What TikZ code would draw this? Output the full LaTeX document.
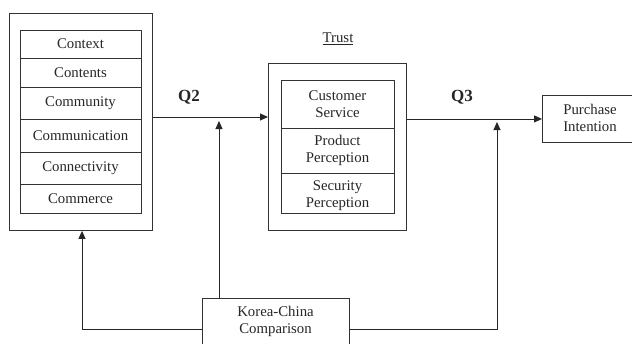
\documentclass[tikz,border=0pt]{standalone}
\usepackage{fontspec}
\setmainfont{Liberation Serif}
\usetikzlibrary{arrows.meta,calc}
\begin{document}
\begin{tikzpicture}[x=1pt,y=-1pt,
  line width=0.9pt,
  every node/.style={font=\fontsize{14.8}{17}\selectfont, text=black!85},
  frame/.style={draw=black!80, rectangle, inner sep=0pt, anchor=north west},
  cell/.style={draw=black!80, rectangle, inner sep=0pt, align=center},
  lbl/.style={font=\fontsize{17}{19}\selectfont\bfseries},
  arr/.style={draw=black!85, -{Triangle[length=8pt,width=7pt]}},
  ln/.style={draw=black!85}]
\useasboundingbox (0,0) rectangle (632,343);
\clip (0,0) rectangle (632,343);
% left frame
\node[frame, minimum width=143pt, minimum height=217pt] (left) at (9,13) {};
\node[cell, minimum width=121pt, minimum height=28pt] (c1) at (80.5,44) {Context};
\node[cell, minimum width=121pt, minimum height=29pt] (c2) at (80.5,72.5) {Contents};
\node[cell, minimum width=121pt, minimum height=32pt] (c3) at (80.5,103) {Community};
\node[cell, minimum width=121pt, minimum height=33pt] (c4) at (80.5,135.5) {Communication};
\node[cell, minimum width=121pt, minimum height=32pt] (c5) at (80.5,168) {Connectivity};
\node[cell, minimum width=121pt, minimum height=29pt] (c6) at (80.5,198.5) {Commerce};
% trust frame
\node (trustlbl) at (338,39) {\underline{Trust}};
\node[frame, minimum width=138pt, minimum height=167pt] (trust) at (268,63) {};
\node[cell, minimum width=113pt, minimum height=48pt] (t1) at (337.5,104) {Customer\\Service};
\node[cell, minimum width=113pt, minimum height=45pt] (t2) at (337.5,150.5) {Product\\Perception};
\node[align=center] (t3txt) at (337.5,196) {Security\\Perception};
\fill[white] (281,213.5) rectangle (394,220);
\node[cell, minimum width=113pt, minimum height=40pt] (t3) at (337.5,193) {};
% purchase
\node[frame, minimum width=100pt, minimum height=47pt] (purchase) at (542,95) {};
\node[align=center] (ptxt) at (590,118) {Purchase\\Intention};
% korea-china
\node[frame, minimum width=147pt, minimum height=52pt] (korea) at (202,298) {};
\node[align=center] (ktxt) at (275.5,321.5) {Korea-China\\Comparison};
% labels
\node[lbl] (q2) at (189,97) {Q2};
\node[lbl] (q3) at (462,97) {Q3};
% coordinates
\coordinate (ya) at (0,117);
\coordinate (m2) at (219,121);
\coordinate (m3) at (497,122);
\coordinate (yb) at (0,329);
\coordinate (lb) at (82,329);
\coordinate (rb) at (497,329);
% connectors
\draw[arr] (left.east |- ya) -- (trust.west |- ya);
\draw[arr] (trust.east |- purchase.west) -- (purchase.west);
\draw[arr] (korea.north -| m2) -- (m2);
\draw[arr] (korea.west |- yb) -- (lb) -- (lb |- left.south);
\draw[arr] (korea.east |- yb) -- (rb) -- (m3);
\end{tikzpicture}
\end{document}
